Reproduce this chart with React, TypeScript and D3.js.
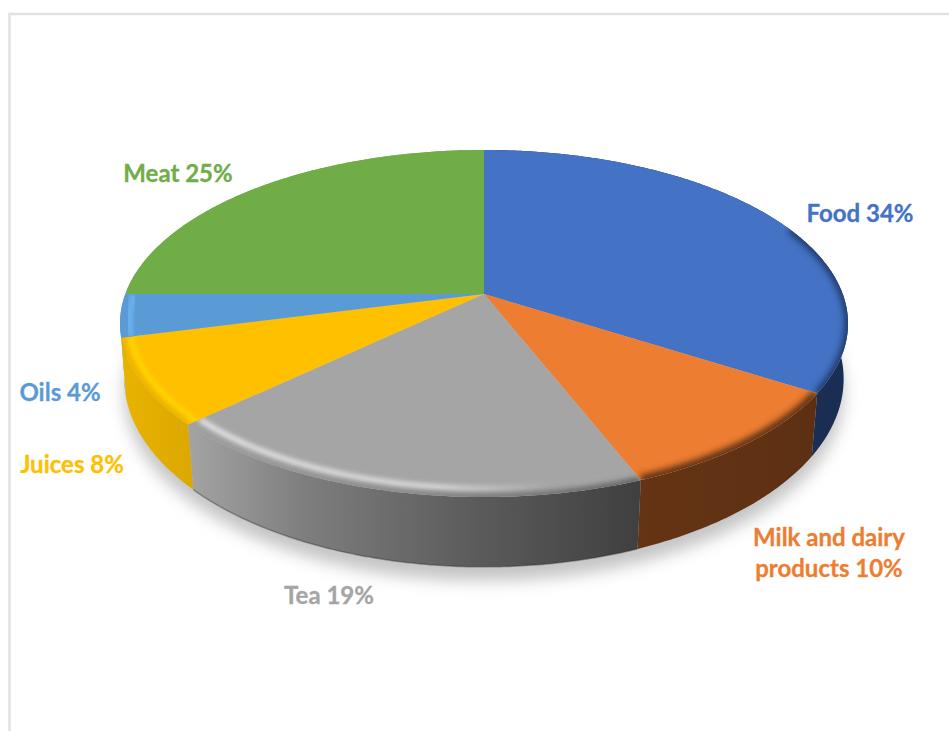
import React from "react";
import * as d3 from "d3";

// Spending shares, clockwise from twelve o'clock
const categories = ["Food", "Milk and dairy products", "Tea", "Juices", "Oils", "Meat"];
const shares = [34, 10, 19, 8, 4, 25];

const topFills = ["#4472C4", "#ED7D31", "#A5A5A5", "#FFC000", "#5B9BD5", "#70AD47"];
const labelFills = ["#4472C4", "#ED7D31", "#A5A5A5", "#FFC000", "#5B9BD5", "#70AD47"];

// Horizontal colour ramps: [offset, colour], over the width of each wall
const wallRamps: [number, string][][] = [
  [[0, "#1b3058"], [1, "#1a2d52"]],
  [[0, "#643414"], [1, "#5e3013"]],
  [[0, "#a2a2a2"], [0.25, "#7e7e7e"], [0.6, "#5e5e5e"], [1, "#404040"]],
  [[0, "#e8b200"], [1, "#dba800"]],
  [[0, "#5b9bd5"], [1, "#5b9bd5"]],
  [[0, "#70ad47"], [1, "#70ad47"]],
];
// Back walls first, so the near slices cover them
const wallOrder = [5, 4, 3, 0, 1, 2];

const edgeShades = ["#1d3461", "#5e3013", "#4a4a4a", "#e0ac00", "none", "none"];
const glintFills = ["none", "none", "#ececec", "#FFD900", "#6fb8f6", "none"];
// The bevel on the long food slice only shows on its near part
const bevelStarts = [1.15, 0, 0, 0, 0, 0];

const labels = [
  { lines: ["Food 34%"], x: 860, y: 222 },
  { lines: ["Milk and dairy", "products 10%"], x: 829, y: 546 },
  { lines: ["Tea 19%"], x: 329, y: 604 },
  { lines: ["Juices 8%"], x: 72, y: 473 },
  { lines: ["Oils 4%"], x: 60, y: 401 },
  { lines: ["Meat 25%"], x: 178, y: 182 },
];

const WIDTH = 949;
const HEIGHT = 731;

// Perspective projection of the disc onto the page. The lid and the base
// share a vanishing factor so the near edge of the pie appears larger.
type Plane = { cx: number; cy: number; sx: number; sy: number; k: number };
const lid: Plane = { cx: 484, cy: 294, sx: 358.7, sy: 168.5, k: 0.17 };
const base: Plane = { cx: 484, cy: 349, sx: 355, sy: 183, k: 0.16 };

const project = (p: Plane, angle: number, r = 1): [number, number] => {
  const u = Math.sin(angle) * r;
  const v = -Math.cos(angle) * r;
  const w = 1 - p.k * v;
  return [p.cx + (p.sx * u) / w, p.cy + (p.sy * v) / w];
};

const angleSteps = (a0: number, a1: number) => {
  const n = Math.max(2, Math.ceil((a1 - a0) / 0.01));
  return d3.range(n + 1).map((i) => a0 + ((a1 - a0) * i) / n);
};

const line = d3.line<[number, number]>();
const arcs = d3
  .pie<number>()
  .sort(null)
  .value((d) => d)
  .startAngle(0)
  .endAngle(2 * Math.PI)(shares);

const arcPoints = (p: Plane, a0: number, a1: number, r = 1) =>
  angleSteps(a0, a1).map((a) => project(p, a, r));

const wedgePath = (a0: number, a1: number) =>
  line([[lid.cx, lid.cy], ...arcPoints(lid, a0, a1)])! + "Z";

const wallPath = (a0: number, a1: number) =>
  line([...arcPoints(lid, a0, a1), ...arcPoints(base, a0, a1).reverse()])! + "Z";

const fullBase = line(arcPoints(base, 0, 2 * Math.PI))! + "Z";

const FONT = "Lato, 'Open Sans', sans-serif";

export default function App() {
  return (
    <svg
      width={WIDTH}
      height={HEIGHT}
      viewBox={`0 0 ${WIDTH} ${HEIGHT}`}
      style={{ position: "fixed", left: 0, top: 0, background: "#fff" }}
    >
      <defs>
        <filter id="dropBlur" x="-10%" y="-15%" width="120%" height="130%">
          <feGaussianBlur stdDeviation="8" />
        </filter>
        <filter id="edgeBlur" x="-10%" y="-20%" width="120%" height="140%">
          <feGaussianBlur stdDeviation="3" />
        </filter>
        <filter id="glintBlur" x="-10%" y="-20%" width="120%" height="140%">
          <feGaussianBlur stdDeviation="2.8" />
        </filter>
        {wallRamps.map((ramp, i) => {
          const xs = arcPoints(base, arcs[i].startAngle, arcs[i].endAngle).map((q) => q[0]);
          return (
            <linearGradient
              key={i}
              id={`wall${i}`}
              gradientUnits="userSpaceOnUse"
              x1={d3.min(xs)}
              x2={d3.max(xs)}
              y1={0}
              y2={0}
            >
              {ramp.map(([o, c]) => (
                <stop key={o} offset={o} stopColor={c} />
              ))}
            </linearGradient>
          );
        })}
        {/* The highlight on the tea slice dies away toward the shaded right side */}
        <linearGradient id="teaGlint" gradientUnits="userSpaceOnUse" x1={190} x2={640} y1={0} y2={0}>
          <stop offset={0} stopColor="#f2f2f2" />
          <stop offset={0.55} stopColor="#e6e6e6" />
          <stop offset={0.8} stopColor="#a8a8a8" />
          <stop offset={1} stopColor="#a5a5a5" />
        </linearGradient>
        <linearGradient id="teaEdge" gradientUnits="userSpaceOnUse" x1={190} x2={640} y1={0} y2={0}>
          <stop offset={0} stopColor="#9a9a9a" />
          <stop offset={0.5} stopColor="#777" />
          <stop offset={1} stopColor="#3f3f3f" />
        </linearGradient>
        {arcs.map((a, i) => (
          <clipPath key={i} id={`lid${i}`}>
            <path d={wedgePath(a.startAngle, a.endAngle)} />
          </clipPath>
        ))}
      </defs>

      {/* Frame of the chart area */}
      <path d={`M9.5,${HEIGHT}V14H${WIDTH}`} fill="none" stroke="#e2e2e2" strokeWidth={2.5} />

      {/* Soft shadow on the ground */}
      <path d={fullBase} transform="translate(0,14)" fill="#c4c4c4" filter="url(#dropBlur)" />

      {/* Outer walls */}
      {wallOrder.map((i) => (
        <path key={i} d={wallPath(arcs[i].startAngle, arcs[i].endAngle)} fill={`url(#wall${i})`} />
      ))}
      <path
        d={line(arcPoints(base, arcs[2].startAngle, arcs[2].endAngle))!}
        fill="none"
        stroke="#2e2e2e"
        strokeOpacity={0.4}
        strokeWidth={1.5}
      />

      {/* Lid wedges with a bevelled rim */}
      {arcs.map((a, i) => {
        const from = Math.max(a.startAngle, bevelStarts[i]);
        return (
          <g key={i}>
            <path d={wedgePath(a.startAngle, a.endAngle)} fill={topFills[i]} />
            <g clipPath={`url(#lid${i})`}>
              {glintFills[i] !== "none" && (
                <path
                  d={line(arcPoints(lid, from, a.endAngle, i === 2 ? 0.965 : 0.975))!}
                  fill="none"
                  stroke={i === 2 ? "url(#teaGlint)" : glintFills[i]}
                  strokeWidth={i === 2 ? 4.5 : 5}
                  filter="url(#glintBlur)"
                />
              )}
              {edgeShades[i] !== "none" && (
                <path
                  d={line(arcPoints(lid, from, a.endAngle, 1))!}
                  fill="none"
                  stroke={i === 2 ? "url(#teaEdge)" : edgeShades[i]}
                  strokeWidth={i === 0 ? 7 : i === 1 ? 10 : 5}
                  filter="url(#edgeBlur)"
                />
              )}
            </g>
          </g>
        );
      })}

      {/* Category labels */}
      {labels.map((l, i) => (
        <text
          key={categories[i]}
          textAnchor="middle"
          fontFamily={FONT}
          fontWeight={700}
          fontSize={24}
          fill={labelFills[i]}
          stroke={labelFills[i]}
          strokeWidth={0.3}
        >
          {l.lines.map((t, j) => (
            <tspan key={j} x={l.x} y={l.y + j * 31}>
              {t}
            </tspan>
          ))}
        </text>
      ))}
    </svg>
  );
}
